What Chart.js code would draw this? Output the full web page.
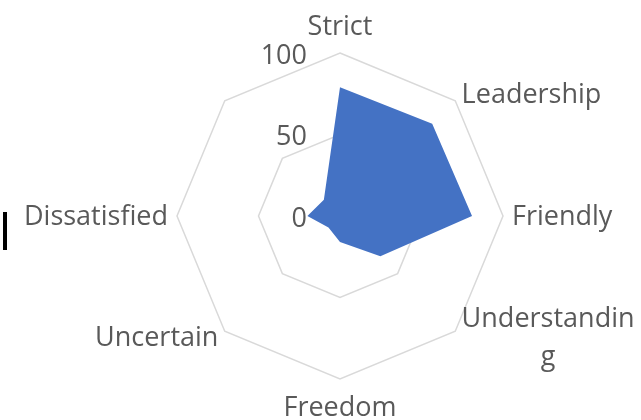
<!DOCTYPE html>
<html>
<head>
<meta charset="utf-8">
<script src="https://cdn.jsdelivr.net/npm/chart.js@4"></script>
<style>
    html, body { margin: 0; padding: 0; background: #fff; overflow: hidden; }
    #wrap { position: relative; width: 641px; height: 420px; }
    #cursor { position: absolute; left: 3px; top: 212px; width: 4px; height: 38px; background: #000; }
</style>
</head>
<body>
<div id="wrap">
    <canvas id="radarChart"></canvas>
    <div id="cursor"></div>
</div>
<script>
// chart data
const categories = ['Strict', 'Leadership', 'Friendly', ['Understandin', 'g'], 'Freedom', 'Uncertain', 'Dissatisfied', ''];
const scores = [79, 80, 81, 35, 16, 10, 20, 14];
const tickValues = [0, 50, 100];

const textColor = '#595959';
const labelFont = '27px "Open Sans"';

// draws the axis labels and tick labels the way the spreadsheet does
const labelPlugin = {
    id: 'labelPlugin',
    afterDraw(chart) {
        const scale = chart.scales.r;
        const ctx = chart.ctx;
        ctx.save();
        ctx.font = labelFont;
        ctx.fillStyle = textColor;
        ctx.textBaseline = 'middle';

        // tick labels, left of the vertical axis
        ctx.textAlign = 'right';
        tickValues.forEach(v => {
            const y = scale.yCenter - scale.getDistanceFromCenterForValue(v) + 3;
            ctx.fillText(String(v), scale.xCenter - 33, y);
        });

        // point labels
        const lineH = 38;
        categories.forEach((label, i) => {
            const lines = Array.isArray(label) ? label : [label];
            if (!lines[0]) return;
            const p = scale.getPointPosition(i, scale.drawingArea + 9);
            const deg = Math.round(scale.getIndexAngle(i) * 180 / Math.PI) % 360;
            const blockW = Math.max(...lines.map(l => ctx.measureText(l).width));
            let left;
            if (deg === 0 || deg === 180) left = p.x - blockW / 2;
            else if (deg < 180) left = p.x;
            else left = p.x - blockW;
            let midY = p.y + 1;
            if (deg === 0) midY -= 18;
            if (deg === 180) midY += 19;
            const top = midY - (lines.length - 1) * lineH / 2;
            ctx.textAlign = 'center';
            lines.forEach((l, k) => ctx.fillText(l, left + blockW / 2, top + k * lineH));
        });
        ctx.restore();
    }
};

const ctx = document.getElementById('radarChart').getContext('2d');
new Chart(ctx, {
    type: 'radar',
    data: {
        labels: categories,
        datasets: [{
            data: scores,
            backgroundColor: '#4472C4',
            borderWidth: 0,
            pointRadius: 0,
            fill: true
        }]
    },
    options: {
        responsive: true,
        maintainAspectRatio: false,
        animation: false,
        layout: { padding: { left: 177, right: 138, top: 53, bottom: 41 } },
        plugins: {
            legend: { display: false },
            tooltip: { enabled: false }
        },
        scales: {
            r: {
                min: 0,
                max: 100,
                ticks: { stepSize: 50, display: false },
                pointLabels: { display: false },
                angleLines: { display: false },
                grid: { color: '#d9d9d9', lineWidth: 1.5 }
            }
        }
    },
    plugins: [labelPlugin]
});
</script>
</body>
</html>
